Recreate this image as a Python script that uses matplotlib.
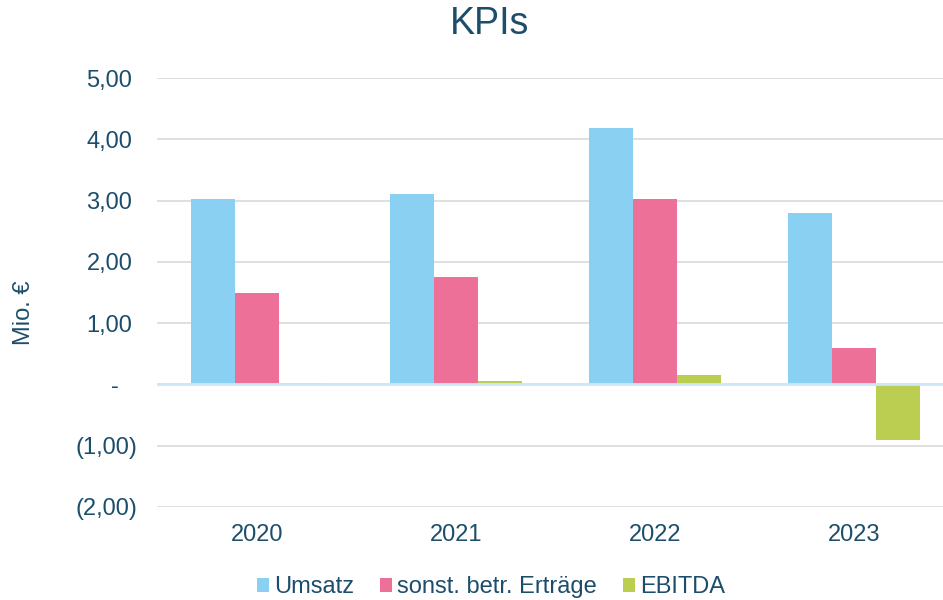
import matplotlib
matplotlib.use("Agg")
import matplotlib.pyplot as plt
import matplotlib.transforms as mtransforms
import numpy as np

plt.rcParams['font.family'] = ['Liberation Sans', 'DejaVu Sans']

years = ["2020", "2021", "2022", "2023"]
umsatz = [3.02, 3.10, 4.19, 2.79]
sonst = [1.50, 1.76, 3.02, 0.59]
ebitda = [0.02, 0.05, 0.16, -0.90]
series_names = ["Umsatz", "sonst. betr. Erträge", "EBITDA"]
yticks = [-2, -1, 0, 1, 2, 3, 4, 5]
ytick_labels = ["(2,00)", "(1,00)", "-", "1,00", "2,00", "3,00", "4,00", "5,00"]

colors = ["#89D0F2", "#EC7097", "#BCCE52"]
txt = "#1C4E6B"

fig = plt.figure(figsize=(9.43, 6.0), dpi=100)
ax = fig.add_axes([157/943, 1 - 507/600, (943-157)/943, (507-78)/600])

x = np.arange(len(years))
w = 0.221
for i, (vals, name) in enumerate(zip([umsatz, sonst, ebitda], series_names)):
    ax.bar(x + (i - 1) * w, vals, w, color=colors[i], label=name, zorder=3)

ax.set_xlim(-0.5025, 3.447)
ax.set_ylim(-2, 5)
ax.set_yticks(yticks)
ax.set_yticklabels(ytick_labels)
ax.set_xticks(x)
ax.set_xticklabels(years)
ax.tick_params(axis='both', length=0, labelsize=17, colors=txt)
ax.tick_params(axis='y', pad=14)
ax.tick_params(axis='x', pad=12)

# accounting-style alignment: positives leave room for ")", zero dash sits further left
for t in ax.get_yticklabels():
    s = t.get_text()
    if s.startswith("("):
        dx = 0
    elif s == "-":
        dx = -13.5
    else:
        dx = -3.8
    if dx:
        t.set_transform(t.get_transform() + mtransforms.ScaledTranslation(dx / 72, 0, fig.dpi_scale_trans))

ax.yaxis.grid(True, color="#D9D9D9", linewidth=1.2, zorder=0)
for sp in ax.spines.values():
    sp.set_visible(False)
ax.axhline(0, color="#CDE8F6", linewidth=2, zorder=4)

fig.text(24/943, 1 - 313/600, "Mio. €", rotation=90, ha='center', va='center', fontsize=17, color=txt)
fig.text(490/943, 1 - 24/600, "KPIs", ha='center', va='center', fontsize=27, color=txt)

leg = fig.legend(loc='center', bbox_to_anchor=(491/943, 1 - 587/600), ncol=3, frameon=False,
                 fontsize=17, handlelength=0.52, handleheight=0.52, handletextpad=0.2, columnspacing=1.1)
for t in leg.get_texts():
    t.set_color(txt)

fig.savefig("out.png", dpi=100)
